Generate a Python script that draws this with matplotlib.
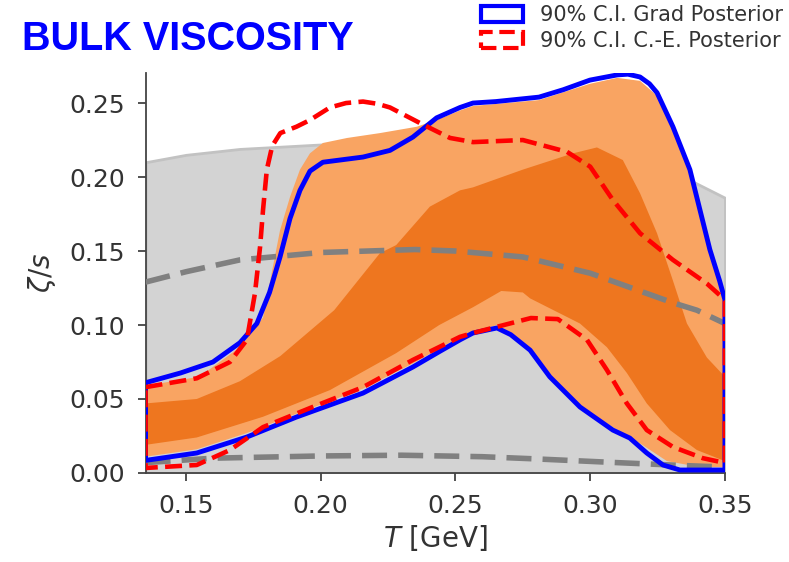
import matplotlib
matplotlib.use("Agg")
import matplotlib.pyplot as plt
from matplotlib.patches import Patch
import numpy as np

# prior band (T, upper edge); lower edge sits at zero
prior_T = [0.135, 0.150, 0.170, 0.200, 0.230, 0.260, 0.290, 0.310, 0.330, 0.338, 0.350]
prior_hi = [0.210, 0.215, 0.219, 0.222, 0.223, 0.222, 0.216, 0.209, 0.200, 0.197, 0.186]

# prior dashed curves
prior_mid_T = [0.135, 0.150, 0.170, 0.200, 0.235, 0.250, 0.275, 0.300, 0.3307, 0.3396, 0.350]
prior_mid = [0.129, 0.136, 0.144, 0.149, 0.151, 0.150, 0.146, 0.135, 0.115, 0.110, 0.101]
prior_low_T = [0.135, 0.160, 0.200, 0.230, 0.260, 0.280, 0.310, 0.335, 0.350]
prior_low = [0.007, 0.010, 0.0115, 0.012, 0.011, 0.0095, 0.007, 0.005, 0.004]

# posterior, 90% band (light)
post90_hi_T = [0.135, 0.155, 0.170, 0.1786, 0.182, 0.1849, 0.1886, 0.1923, 0.196, 0.2008,
               0.2098, 0.222, 0.2357, 0.245, 0.2517, 0.2565, 0.281, 0.2999, 0.310, 0.3185,
               0.3248, 0.3307, 0.337, 0.3407, 0.3444, 0.348, 0.350]
post90_hi = [0.059, 0.065, 0.085, 0.105, 0.137, 0.164, 0.1865, 0.205, 0.216, 0.223,
             0.2264, 0.2297, 0.234, 0.240, 0.245, 0.248, 0.252, 0.263, 0.267, 0.265,
             0.255, 0.232, 0.203, 0.176, 0.149, 0.128, 0.115]
post90_lo_T = [0.135, 0.154, 0.1726, 0.191, 0.2157, 0.2342, 0.2517, 0.2654, 0.275, 0.285,
               0.2962, 0.3084, 0.3185, 0.3285, 0.3407, 0.350]
post90_lo = [0.011, 0.016, 0.027, 0.040, 0.057, 0.074, 0.092, 0.100, 0.088, 0.066,
             0.045, 0.031, 0.020, 0.008, 0.004, 0.004]

# posterior, 60% band (dark)
post60_hi_T = [0.135, 0.154, 0.170, 0.185, 0.205, 0.222, 0.228, 0.2405, 0.2517, 0.2565,
               0.275, 0.2936, 0.3025, 0.3121, 0.3185, 0.3248, 0.3307, 0.3359, 0.3433, 0.350]
post60_hi = [0.047, 0.050, 0.062, 0.079, 0.110, 0.1486, 0.154, 0.180, 0.191, 0.193,
             0.205, 0.216, 0.220, 0.2115, 0.189, 0.162, 0.130, 0.101, 0.078, 0.065]
post60_lo_T = [0.135, 0.154, 0.1786, 0.2034, 0.228, 0.244, 0.2565, 0.267, 0.275, 0.2777,
               0.2962, 0.3062, 0.3136, 0.321, 0.3296, 0.3396, 0.350]
post60_lo = [0.019, 0.024, 0.038, 0.056, 0.081, 0.100, 0.112, 0.123, 0.122, 0.118,
             0.101, 0.085, 0.0676, 0.047, 0.029, 0.0155, 0.008]

# 90% C.I. Grad posterior
grad_hi_T = [0.135, 0.148, 0.160, 0.170, 0.1763, 0.181, 0.1849, 0.1886, 0.1923, 0.196,
             0.2008, 0.2157, 0.2257, 0.2342, 0.243, 0.2517, 0.2565, 0.265, 0.281, 0.290,
             0.2999, 0.310, 0.314, 0.3185, 0.322, 0.3248, 0.3307, 0.337, 0.3407, 0.3444,
             0.348, 0.350]
grad_hi = [0.061, 0.0676, 0.075, 0.088, 0.101, 0.122, 0.146, 0.172, 0.191, 0.204,
           0.210, 0.2135, 0.218, 0.227, 0.240, 0.247, 0.250, 0.251, 0.254, 0.259,
           0.2655, 0.269, 0.2695, 0.2676, 0.263, 0.257, 0.234, 0.205, 0.178, 0.151,
           0.130, 0.117]
grad_lo_T = [0.135, 0.154, 0.1726, 0.191, 0.2157, 0.2342, 0.244, 0.2517, 0.2565, 0.2654,
             0.2705, 0.2777, 0.285, 0.2962, 0.3084, 0.3147, 0.321, 0.327, 0.3333, 0.3407,
             0.350]
grad_lo = [0.0085, 0.0135, 0.0243, 0.0378, 0.054, 0.0716, 0.082, 0.090, 0.0946, 0.098,
           0.0935, 0.083, 0.065, 0.0446, 0.029, 0.0236, 0.0135, 0.0054, 0.002, 0.002,
           0.002]

# 90% C.I. C.-E. posterior
ce_hi_T = [0.135, 0.154, 0.1663, 0.1726, 0.1756, 0.1775, 0.1786, 0.180, 0.182, 0.185,
           0.191, 0.196, 0.2034, 0.2094, 0.2157, 0.221, 0.2257, 0.2368, 0.248, 0.2565,
           0.275, 0.2914, 0.300, 0.3084, 0.3185, 0.3307, 0.3433, 0.350]
ce_hi = [0.058, 0.064, 0.075, 0.090, 0.1216, 0.153, 0.178, 0.205, 0.221, 0.2297,
         0.234, 0.2385, 0.247, 0.250, 0.251, 0.2495, 0.247, 0.2365, 0.2264, 0.2236,
         0.225, 0.217, 0.207, 0.1845, 0.162, 0.144, 0.128, 0.117]
ce_lo_T = [0.135, 0.154, 0.1663, 0.1786, 0.197, 0.2157, 0.2342, 0.2517, 0.2565, 0.278,
           0.288, 0.2988, 0.3062, 0.3136, 0.321, 0.3307, 0.3418, 0.350]
ce_lo = [0.0034, 0.0054, 0.0155, 0.031, 0.0446, 0.058, 0.0764, 0.092, 0.0946, 0.1047,
         0.104, 0.090, 0.0696, 0.047, 0.029, 0.0176, 0.010, 0.0068]

xticks = [0.15, 0.20, 0.25, 0.30, 0.35]
yticks = [0.00, 0.05, 0.10, 0.15, 0.20, 0.25]


def band(t_hi, hi, t_lo, lo):
    # closed outline: upper edge left to right, lower edge back
    xs = np.concatenate([t_hi, t_lo[::-1]])
    ys = np.concatenate([hi, lo[::-1]])
    return xs, ys


plt.rcParams["font.family"] = "DejaVu Sans"
fig = plt.figure(figsize=(7.89, 5.62), dpi=100)
ax = fig.add_axes([0.1845, 0.1584, 0.7343, 0.7117])

ax.fill_between(prior_T, 0, prior_hi, facecolor="#d3d3d3", edgecolor="#c2c2c2", lw=2, zorder=1)

xs, ys = band(post90_hi_T, post90_hi, post90_lo_T, post90_lo)
ax.fill(xs, ys, color="#f9a462", lw=0, zorder=2)
xs, ys = band(post60_hi_T, post60_hi, post60_lo_T, post60_lo)
ax.fill(xs, ys, color="#ee761f", lw=0, zorder=3)

ax.plot(prior_mid_T, prior_mid, color="#808080", lw=4, dashes=(4.5, 2), zorder=4)
ax.plot(prior_low_T, prior_low, color="#808080", lw=4, dashes=(4.5, 2), zorder=4)

xs, ys = band(grad_hi_T, grad_hi, grad_lo_T, grad_lo)
ax.fill(xs, ys, facecolor="none", edgecolor="#0000ff", lw=3.5, joinstyle="round", zorder=5)
xs, ys = band(ce_hi_T, ce_hi, ce_lo_T, ce_lo)
ax.fill(xs, ys, facecolor="none", edgecolor="#ff0000", lw=3.3, ls="--",
        joinstyle="round", zorder=6)

ax.set_xlim(0.135, 0.35)
ax.set_ylim(0, 0.2703)
ax.set_xticks(xticks)
ax.set_yticks(yticks)
ax.set_xticklabels([f"{v:.2f}" for v in xticks])
ax.set_yticklabels([f"{v:.2f}" for v in yticks])
for side in ["top", "right"]:
    ax.spines[side].set_visible(False)
for side in ["left", "bottom"]:
    ax.spines[side].set_color("#444444")
    ax.spines[side].set_linewidth(1.3)
ax.tick_params(labelsize=18, colors="#333333", length=6, width=1.2, pad=9)
ax.set_xlabel("$T$ [GeV]", fontsize=20, color="#333333", labelpad=4)
ax.set_ylabel(r"$\zeta/s$", fontsize=20, color="#333333", labelpad=8)

fig.text(0.028, 0.911, "BULK VISCOSITY", color="#0000ff", fontsize=28.5,
         fontweight="bold", family="Liberation Sans", va="baseline")

handles = [Patch(facecolor="white", edgecolor="#0000ff", lw=3),
           Patch(facecolor="white", edgecolor="#ff0000", lw=3, ls="--")]
labels = ["90% C.I. Grad Posterior", "90% C.I. C.-E. Posterior"]
fig.legend(handles, labels, loc="upper left", bbox_to_anchor=(481 / 789, 1 - 5 / 562),
           frameon=False, fontsize=15, handlelength=2.0, handleheight=0.8,
           handletextpad=0.85, labelspacing=0.3, borderpad=0, borderaxespad=0,
           labelcolor="#333333")

fig.savefig("out.png", dpi=100)
